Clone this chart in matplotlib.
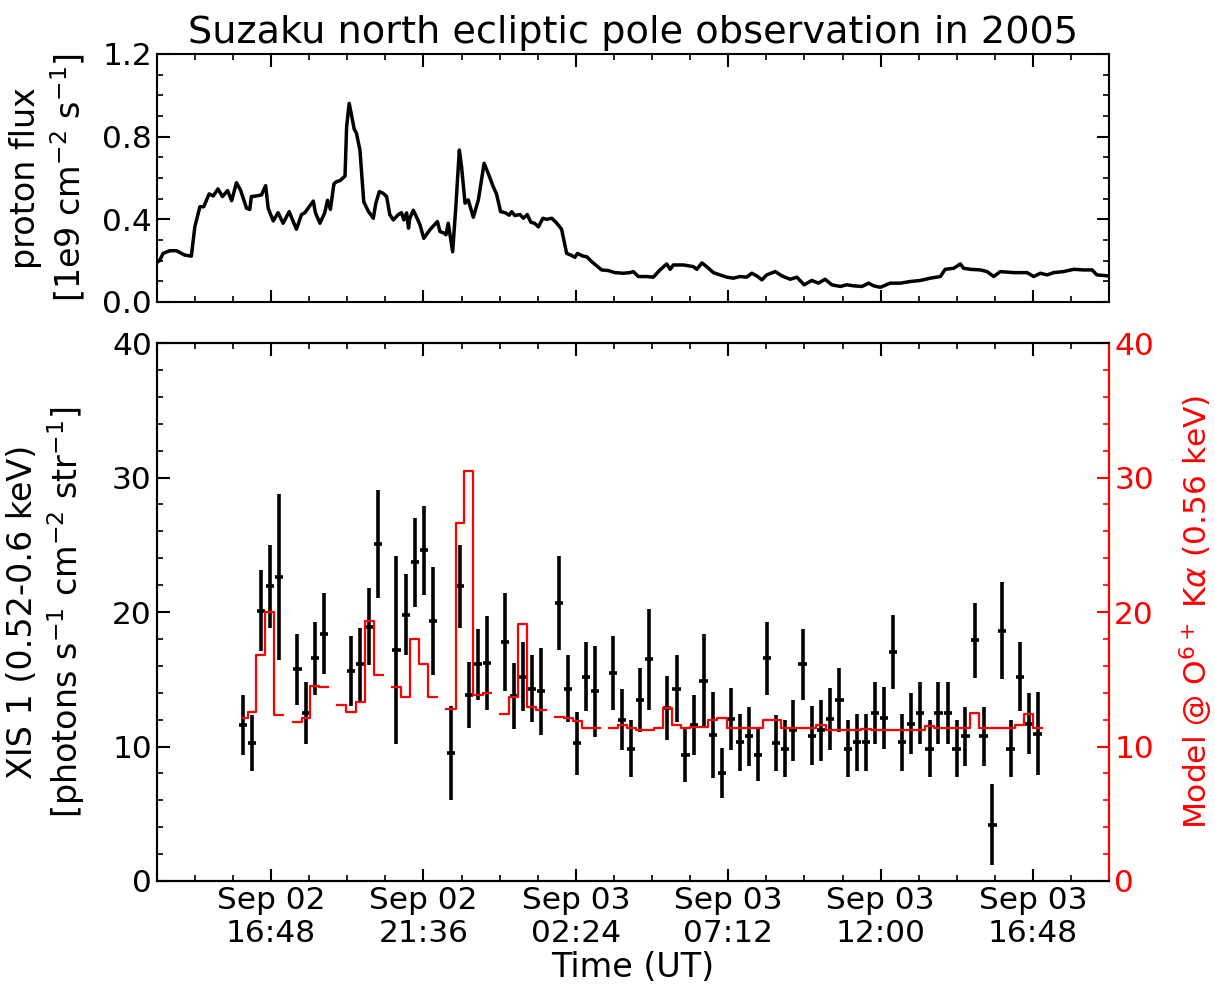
import numpy as np
import matplotlib
matplotlib.use("Agg")
import matplotlib.pyplot as plt
import matplotlib.dates as mdates
from matplotlib.ticker import MultipleLocator, FormatStrFormatter
from datetime import datetime

nan = np.nan

# proton flux, hours since 2005-09-02 00:00 UT
proton_hours = [13.19, 13.29, 13.40, 13.61, 13.82, 13.98, 14.08, 14.29, 14.40, 14.56,
                14.68, 14.85, 14.98, 15.13, 15.27, 15.43, 15.56, 15.71, 15.84, 16.03,
                16.13, 16.18, 16.34, 16.50, 16.63, 16.71, 16.87, 17.02, 17.18, 17.37,
                17.60, 17.76, 17.86, 18.00, 18.13, 18.20, 18.34, 18.49, 18.58, 18.67,
                18.78, 18.86, 18.97, 19.13, 19.18, 19.26, 19.34, 19.42, 19.49, 19.60,
                19.72, 19.86, 20.02, 20.10, 20.21, 20.33, 20.44, 20.54, 20.65, 20.81,
                20.91, 20.98, 21.07, 21.13, 21.17, 21.28, 21.40, 21.49, 21.61, 21.80,
                22.04, 22.12, 22.25, 22.31, 22.38, 22.52, 22.62, 22.73, 22.80, 22.91,
                23.01, 23.17, 23.33, 23.41, 23.51, 23.64, 23.80, 23.90, 24.03, 24.17,
                24.30, 24.38, 24.48, 24.64, 24.75, 24.87, 24.98, 25.11, 25.22, 25.36,
                25.48, 25.64, 25.77, 25.88, 25.95, 26.11, 26.24, 26.37, 26.45, 26.62,
                26.74, 26.90, 27.06, 27.21, 27.42, 27.63, 27.90, 28.11, 28.21, 28.37,
                28.63, 28.84, 29.05, 29.26, 29.37, 29.47, 29.79, 30.10, 30.21, 30.37,
                30.52, 30.73, 30.94, 31.15, 31.36, 31.57, 31.78, 31.94, 32.10, 32.26,
                32.41, 32.68, 32.89, 33.15, 33.36, 33.59, 33.83, 34.04, 34.25, 34.46,
                34.73, 34.93, 35.15, 35.41, 35.62, 35.78, 35.99, 36.30, 36.62, 36.93,
                37.25, 37.56, 37.88, 38.03, 38.30, 38.51, 38.61, 38.82, 39.14, 39.35,
                39.56, 39.77, 40.19, 40.61, 40.82, 41.03, 41.24, 41.45, 41.76, 42.08,
                42.39, 42.66, 42.81, 43.18]
proton_flux = [0.190, 0.200, 0.235, 0.248, 0.248, 0.235, 0.227, 0.222, 0.364, 0.461,
               0.461, 0.523, 0.513, 0.547, 0.510, 0.539, 0.490, 0.577, 0.541, 0.453,
               0.448, 0.510, 0.513, 0.518, 0.563, 0.453, 0.392, 0.432, 0.381, 0.437,
               0.352, 0.423, 0.431, 0.461, 0.488, 0.431, 0.381, 0.431, 0.492, 0.448,
               0.571, 0.582, 0.587, 0.609, 0.848, 0.961, 0.900, 0.836, 0.816, 0.735,
               0.485, 0.440, 0.405, 0.477, 0.534, 0.526, 0.510, 0.423, 0.397, 0.423,
               0.432, 0.397, 0.431, 0.357, 0.405, 0.444, 0.405, 0.374, 0.308, 0.349,
               0.389, 0.341, 0.333, 0.325, 0.381, 0.243, 0.461, 0.735, 0.655, 0.478,
               0.494, 0.410, 0.494, 0.574, 0.671, 0.622, 0.557, 0.523, 0.437, 0.432,
               0.420, 0.437, 0.418, 0.423, 0.405, 0.423, 0.386, 0.380, 0.363, 0.405,
               0.400, 0.405, 0.386, 0.366, 0.352, 0.235, 0.227, 0.216, 0.235, 0.222,
               0.219, 0.195, 0.174, 0.155, 0.152, 0.142, 0.139, 0.142, 0.147, 0.123,
               0.123, 0.120, 0.155, 0.184, 0.158, 0.179, 0.179, 0.171, 0.158, 0.189,
               0.171, 0.142, 0.131, 0.120, 0.115, 0.123, 0.120, 0.139, 0.126, 0.107,
               0.131, 0.147, 0.126, 0.110, 0.120, 0.083, 0.104, 0.091, 0.110, 0.083,
               0.075, 0.083, 0.078, 0.075, 0.091, 0.078, 0.071, 0.091, 0.091, 0.099,
               0.104, 0.115, 0.123, 0.158, 0.163, 0.184, 0.163, 0.158, 0.155, 0.147,
               0.123, 0.147, 0.142, 0.142, 0.123, 0.139, 0.131, 0.142, 0.147, 0.158,
               0.155, 0.155, 0.131, 0.126]

# XIS 1 light-curve bins (hours since 2005-09-02 00:00 UT)
bin_hours = [15.92, 16.20, 16.48, 16.76, 17.05, 17.33, 17.63, 17.90, 18.18, 18.46,
             18.75, 19.03, 19.32, 19.61, 19.89, 20.17, 20.46, 20.75, 21.04, 21.33,
             21.61, 21.90, 22.18, 22.47, 22.75, 23.03, 23.32, 23.60, 23.88, 24.17,
             24.45, 24.73, 25.02, 25.30, 25.59, 25.87, 26.16, 26.44, 26.72, 27.00,
             27.29, 27.57, 27.86, 28.14, 28.42, 28.71, 28.99, 29.28, 29.57, 29.85,
             30.13, 30.42, 30.71, 31.01, 31.29, 31.57, 31.86, 32.14, 32.43, 32.71,
             32.99, 33.25, 33.54, 33.83, 34.12, 34.41, 34.70, 34.97, 35.25, 35.54,
             35.83, 36.11, 36.39, 36.68, 36.96, 37.25, 37.54, 37.82, 38.11, 38.39,
             38.67, 38.96, 39.24, 39.52, 39.81, 40.09, 40.38, 40.66, 40.94, 41.23]
xis_rate = [11.6, 10.25, 20.1, 21.9, 22.6, nan, 15.75, 12.5, 16.55, 18.4,
            nan, nan, 15.6, 16.1, 18.9, 25.05, nan, 17.2, 19.8, 23.7,
            24.6, 19.35, nan, 9.5, 21.9, 13.85, 16.1, 16.2, nan, 17.8,
            13.75, 15.2, 14.3, 14.1, nan, 20.65, 14.3, 10.25, 15.2, 14.1,
            nan, 15.5, 12.0, 9.85, 13.45, 16.5, nan, 12.85, 14.3, 9.4,
            11.6, 14.9, 10.85, 8.05, 12.05, 10.3, 10.75, 9.4, 16.55, 10.25,
            9.85, 11.2, 16.1, 10.8, 11.2, 12.05, 13.45, 9.85, 10.3, 10.3,
            12.5, 12.1, 17.0, 10.3, 11.7, 12.5, 9.85, 12.5, 12.5, 9.85,
            10.75, 17.9, 10.75, 4.2, 18.6, 9.85, 15.2, 11.7, 10.95, nan]
xis_err = [2.25, 2.1, 3.0, 3.1, 6.2, nan, 2.65, 2.3, 2.7, 3.0,
           nan, nan, 2.6, 2.7, 2.85, 4.0, nan, 7.0, 3.0, 3.3,
           3.3, 4.0, nan, 3.5, 3.1, 2.45, 2.65, 3.5, nan, 3.65,
           2.45, 2.55, 2.5, 3.25, nan, 3.5, 2.5, 2.35, 2.55, 3.4,
           nan, 2.75, 2.25, 2.15, 2.4, 3.75, nan, 2.4, 2.5, 2.05,
           2.25, 3.5, 3.2, 1.85, 2.3, 2.1, 2.2, 2.0, 2.7, 2.1,
           2.1, 2.25, 2.65, 2.2, 2.25, 2.3, 2.4, 2.1, 2.1, 2.1,
           2.3, 2.3, 2.75, 2.1, 2.25, 2.3, 2.1, 2.3, 2.3, 2.1,
           2.2, 2.8, 2.2, 3.0, 3.6, 2.1, 2.55, 2.25, 3.1, nan]
model_rate = [12.1, 12.6, 16.8, 20.0, 12.35, nan, 11.85, 12.1, 14.5, 14.4,
              nan, 13.1, 12.6, 13.3, 19.3, 15.3, nan, 14.45, 13.65, 18.0,
              16.1, 13.65, nan, 12.8, 26.6, 30.5, 13.85, 14.0, nan, 12.4,
              13.7, 19.1, 12.95, 12.7, nan, 12.2, 12.15, 11.9, 11.4, 11.4,
              nan, 11.4, 11.6, 11.4, 11.25, 11.25, 11.4, 12.85, 11.6, 11.4,
              11.45, 11.45, 12.0, 12.15, 11.4, 11.4, 11.4, 11.4, 12.0, 12.0,
              11.4, 11.4, 11.4, 11.4, 11.6, 11.25, 11.25, 11.25, 11.25, 11.3,
              11.25, 11.25, 11.25, 11.25, 11.25, 11.25, 11.5, 11.35, 11.35, 11.35,
              11.35, 12.5, 11.35, 11.35, 11.4, 11.4, 11.6, 12.4, 11.4, nan]
bin_half_width_h = 0.13

day0 = mdates.date2num(datetime(2005, 9, 2))
t_proton = day0 + np.array(proton_hours) / 24.0
t_bins = day0 + np.array(bin_hours) / 24.0

plt.rcParams['font.family'] = 'DejaVu Sans'
plt.rcParams['font.size'] = 24

fig = plt.figure(figsize=(12.15, 9.92), dpi=100)
ax1 = fig.add_axes([0.129, 0.6956, 0.784, 0.25])
ax2 = fig.add_axes([0.129, 0.1119, 0.784, 0.5423], sharex=ax1)
ax3 = ax2.twinx()

ax1.plot(t_proton, proton_flux, color='black', lw=2.5)
ax1.set_ylim(0, 1.2)
ax1.yaxis.set_major_locator(MultipleLocator(0.4))
ax1.yaxis.set_minor_locator(MultipleLocator(0.1))
ax1.yaxis.set_major_formatter(FormatStrFormatter('%.1f'))
ax1.set_ylabel('proton flux\n[1e9 cm$^{-2}$ s$^{-1}$]')
ax1.set_title('Suzaku north ecliptic pole observation in 2005', fontsize=27.5, pad=8)
ax1.tick_params(labelbottom=False)

ax2.errorbar(t_bins, xis_rate, yerr=xis_err, xerr=bin_half_width_h / 24.0,
             fmt='none', ecolor='black', elinewidth=2.6, capsize=0)
ax2.set_ylim(0, 40)
ax2.yaxis.set_major_locator(MultipleLocator(10))
ax2.yaxis.set_minor_locator(MultipleLocator(2))
ax2.set_ylabel('XIS 1 (0.52-0.6 keV)\n[photons s$^{-1}$ cm$^{-2}$ str$^{-1}$]')
ax2.set_xlabel('Time (UT)', labelpad=2)

ax3.plot(t_bins, model_rate, color='red', lw=1.6, drawstyle='steps-mid')
ax3.set_ylim(0, 40)
ax3.yaxis.set_major_locator(MultipleLocator(10))
ax3.yaxis.set_minor_locator(MultipleLocator(2))
ax3.set_ylabel(r'Model @ O$^{6+}$ K$\alpha$ (0.56 keV)', color='red', fontsize=22.5)

ax1.set_xlim(day0 + 13.2 / 24.0, day0 + 43.2 / 24.0)
ax2.xaxis.set_major_locator(MultipleLocator(0.2, offset=0.1))
ax2.xaxis.set_minor_locator(MultipleLocator(0.05))
ax2.xaxis.set_major_formatter(mdates.DateFormatter('%b %d\n%H:%M'))

for ax in (ax1, ax2, ax3):
    for sp in ax.spines.values():
        sp.set_linewidth(1.5)
    ax.tick_params(which='major', direction='in', length=9, width=1.5, labelsize=22.5)
    ax.tick_params(which='minor', direction='in', length=4.5, width=1.2)
ax1.tick_params(which='both', top=True, right=True)
ax2.tick_params(which='both', top=True)
ax3.spines['right'].set_color('red')
ax3.tick_params(axis='y', which='both', colors='red')

ax1.yaxis.set_label_coords(-0.073, 0.5)
ax2.yaxis.set_label_coords(-0.073, 0.5)
ax3.yaxis.set_label_coords(1.072, 0.5)

fig.savefig('out.png', dpi=100)
